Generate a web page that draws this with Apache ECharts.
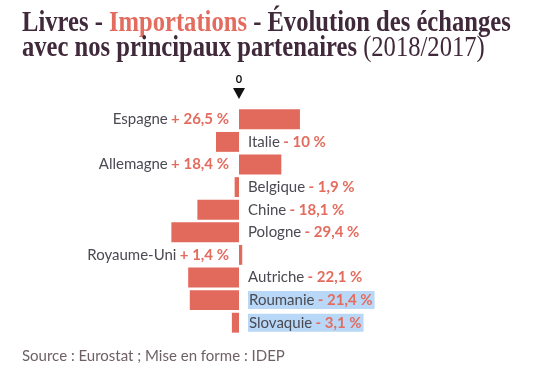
<!DOCTYPE html>
<html><head><meta charset="utf-8">
<script src="https://cdn.jsdelivr.net/npm/echarts@6/dist/echarts.min.js"></script>
<style>html,body{margin:0;padding:0;background:#fff}#c{width:540px;height:372px}</style>
</head><body><div id="c"></div>
<script>
const categories = ['Espagne','Italie','Allemagne','Belgique','Chine','Pologne','Royaume-Uni','Autriche','Roumanie','Slovaquie'];
const values = [26.5,-10,18.4,-1.9,-18.1,-29.4,1.4,-22.1,-21.4,-3.1];
const highlighted = ['Roumanie','Slovaquie'];
const zeroTick = [0];

const DARK = '#40293a', SALMON = '#e36c5e', GREY = '#4a4a52', BAR = '#e26a5c', HL = '#b9d8f7';
const TF = '"Liberation Serif", serif';
const LF = 'Lato, "Open Sans", sans-serif';

function fmt(v){
  const s = v >= 0 ? '+ ' : '- ';
  return s + String(Math.abs(v)).replace('.', ',') + ' %';
}

const chart = echarts.init(document.getElementById('c'), null, {renderer:'canvas'});
const data = values.map((v,i)=>{
  const hl = highlighted.includes(categories[i]);
  return {
    value: v,
    label: {
      position: v >= 0 ? 'left' : 'right',
      distance: v >= 0 ? 10 : 9,
      backgroundColor: hl ? HL : 'transparent',
      padding: hl ? [2,2,1,1] : 0
    }
  };
});
const TS = 24.6;
chart.setOption({
  animation:false,
  graphic:[{
    type:'text', x:22, y:11, scaleY:1.18,
    style:{
      text: '{a|Livres - }{b|Importations}{a| - Évolution des échanges}\n{a|avec nos principaux partenaires}{c| (2018/2017)}',
      rich:{
        a:{fontFamily:TF,fontWeight:'bold',fontSize:TS,fill:DARK,lineHeight:21},
        b:{fontFamily:TF,fontWeight:'bold',fontSize:TS,fill:SALMON,lineHeight:21},
        c:{fontFamily:TF,fontWeight:'normal',fontSize:TS,fill:DARK,lineHeight:21}
      }
    }
  },{
    type:'text', x:22, y:349,
    style:{text:'Source : Eurostat ; Mise en forme : IDEP', fontSize:15, fontFamily:LF, fill:'#6e6166'}
  }],
  grid:{left:101, right:163, top:108, bottom:38, containLabel:false},
  xAxis:{
    type:'value', position:'top', min:-60, max:60, interval:60,
    splitLine:{show:false}, axisLine:{show:false}, axisTick:{show:false},
    axisLabel:{
      margin:23, color:'#111', fontFamily:LF, fontSize:11, fontWeight:'bold',
      formatter:(v)=> zeroTick.includes(v) ? String(v) : ''
    }
  },
  yAxis:{
    type:'category', data:categories, inverse:true,
    axisLine:{show:false}, axisTick:{show:false}, axisLabel:{show:false}
  },
  series:[{
    type:'bar', data:data, barCategoryGap:'12%',
    itemStyle:{color:BAR},
    label:{
      show:true,
      formatter:(p)=> '{n|'+p.name+'} {v|'+fmt(p.value)+'}',
      rich:{
        n:{fontFamily:LF,fontSize:15,color:GREY},
        v:{fontFamily:LF,fontSize:15,color:SALMON,fontWeight:'bold'}
      }
    }
  }]
});
const zx = chart.convertToPixel({xAxisIndex:0}, zeroTick[0]);
chart.setOption({graphic:[{},{},{
  type:'polygon', shape:{points:[[zx-6,88],[zx+6,88],[zx,99]]}, style:{fill:'#111'}
}]});
</script></body></html>
